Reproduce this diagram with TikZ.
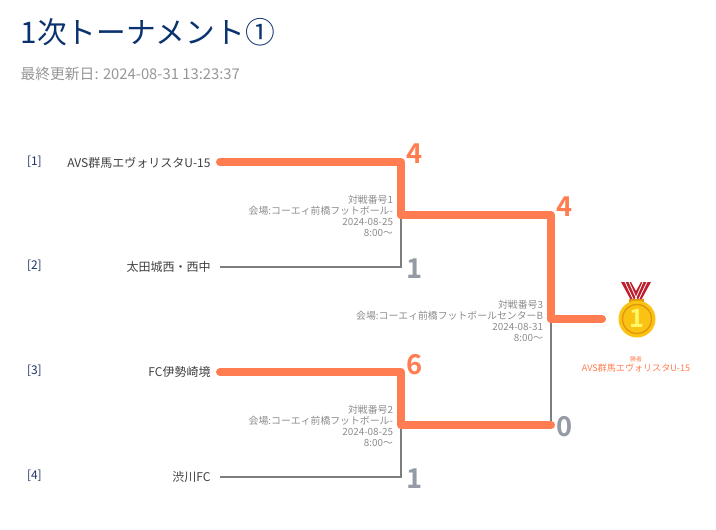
\documentclass[tikz,border=0pt]{standalone}
\usepackage{fontspec}
\setmainfont{Noto Sans CJK JP}
\newfontfamily\jpbold[FakeBold=0]{Noto Sans CJK JP Bold}
\definecolor{titleblue}{RGB}{10,50,110}
\definecolor{subgray}{RGB}{150,150,150}
\definecolor{winorange}{RGB}{255,125,80}
\definecolor{losegray}{RGB}{125,125,125}
\definecolor{scoregray}{RGB}{148,155,165}
\definecolor{seedblue}{RGB}{30,50,100}
\definecolor{medalgold}{RGB}{250,195,20}
\definecolor{medaldark}{RGB}{225,150,10}
\definecolor{ribbonred}{RGB}{190,30,45}
\tikzset{every picture/.style={line width=0.75pt}}
\tikzset{
  winline/.style={draw=winorange,line width=6pt,line cap=round,line join=round},
  loseline/.style={draw=losegray,line width=1.5pt},
  teamlabel/.style={anchor=east,inner sep=0pt,font=\fontsize{9}{11}\selectfont,text=black!75},
  seedlabel/.style={anchor=west,inner sep=0pt,font=\fontsize{9}{11}\selectfont,text=seedblue},
  infolabel/.style={anchor=east,inner sep=0pt,align=right,text=black!45,font=\fontsize{7.4}{8.1}\selectfont},
  winscore/.style={anchor=west,inner sep=0pt,text=winorange,font=\jpbold\fontsize{20.5}{20.5}\selectfont},
  losescore/.style={anchor=west,inner sep=0pt,text=scoregray,font=\jpbold\fontsize{20.5}{20.5}\selectfont},
}
\begin{document}
\begin{tikzpicture}[x=0.75pt,y=0.75pt,yscale=-1.0,xscale=1.0]
    \useasboundingbox (0,0) rectangle (716,529);

    % Title
    \node (title) [anchor=west,inner sep=0pt,text=titleblue,font=\fontsize{22.3}{26}\selectfont] at (20,32.5) {1次トーナメント①};
    \node (updated) [anchor=west,inner sep=0pt,text=subgray,font=\fontsize{11.1}{13}\selectfont] at (20,74) {最終更新日: 2024-08-31 13:23:37};

    % Seeds
    \node (seed1) [seedlabel] at (26.5,162) {[1]};
    \node (seed2) [seedlabel] at (26.5,266) {[2]};
    \node (seed3) [seedlabel] at (26.5,371) {[3]};
    \node (seed4) [seedlabel] at (26.5,476) {[4]};

    % Teams
    \node (team1) [teamlabel] at (211,163) {AVS群馬エヴォリスタU-15};
    \node (team2) [teamlabel] at (211,267) {太田城西・西中};
    \node (team3) [teamlabel] at (211,372) {FC伊勢崎境};
    \node (team4) [teamlabel] at (211,477) {渋川FC};

    % Junctions
    \coordinate (start1) at (220,162);
    \coordinate (start2) at (220,267);
    \coordinate (start3) at (220,372);
    \coordinate (start4) at (220,477);
    \coordinate (semi1) at (401,215);
    \coordinate (semi2) at (401,425);
    \coordinate (final) at (551,319);
    \coordinate (finalb) at (551,425);
    \coordinate (champ) at (602,319);

    % Losers
    \draw [loseline] (start2) -| (semi1);
    \draw [loseline] (start4) -| (semi2);
    \draw [loseline] (finalb) -- (final);

    % Winners
    \draw [winline] (start1) -| (semi1);
    \draw [winline] (start3) -| (semi2) -- (finalb);
    \draw [winline] (semi1) -| (final);
    \draw [winline] (final) -- (champ);

    % Scores
    \node (score1) [winscore] at (405.5,154) {4};
    \node (score2) [losescore] at (405.5,269) {1};
    \node (score3) [winscore] at (405.5,365) {6};
    \node (score4) [losescore] at (405.5,479) {1};
    \node (score5) [winscore] at (555.5,207) {4};
    \node (score6) [losescore] at (555.5,427) {0};

    % Match info
    \node (match1) [infolabel] at (393.5,216) {対戦番号1\\会場:コーエィ前橋フットボール-\\2024-08-25\\8:00〜};
    \node (match2) [infolabel] at (393.5,426) {対戦番号2\\会場:コーエィ前橋フットボール-\\2024-08-25\\8:00〜};
    \node (match3) [infolabel] at (543.5,321) {対戦番号3\\会場:コーエィ前橋フットボールセンターB\\2024-08-31\\8:00〜};

    % Medal
    \fill [ribbonred] (621,282) -- (631,282) -- (642,302) -- (633,304) -- cycle;
    \fill [ribbonred] (651,282) -- (641,282) -- (630,302) -- (639,304) -- cycle;
    \draw [white,line width=0.6pt] (625,282) -- (635,303) (629,282) -- (638,302);
    \draw [white,line width=0.6pt] (647,282) -- (637,303) (643,282) -- (634,302);
    \fill [medaldark] (629,299) rectangle (644,306);
    \fill [medalgold] (637,319) circle [radius=18.5];
    \draw [medaldark,line width=1pt] (637,319) circle [radius=14.5];
    \node (medalnum) [inner sep=0pt,text=yellow!60!white,font=\jpbold\fontsize{19}{19}\selectfont] at (637,318) {1};

    % Champion
    \node (winnertag) [inner sep=0pt,text=winorange,font=\fontsize{4.5}{5}\selectfont] at (636,359) {勝者};
    \node (winnername) [inner sep=0pt,text=winorange,font=\fontsize{6.8}{9}\selectfont] at (636,368) {AVS群馬エヴォリスタU-15};
\end{tikzpicture}
\end{document}
